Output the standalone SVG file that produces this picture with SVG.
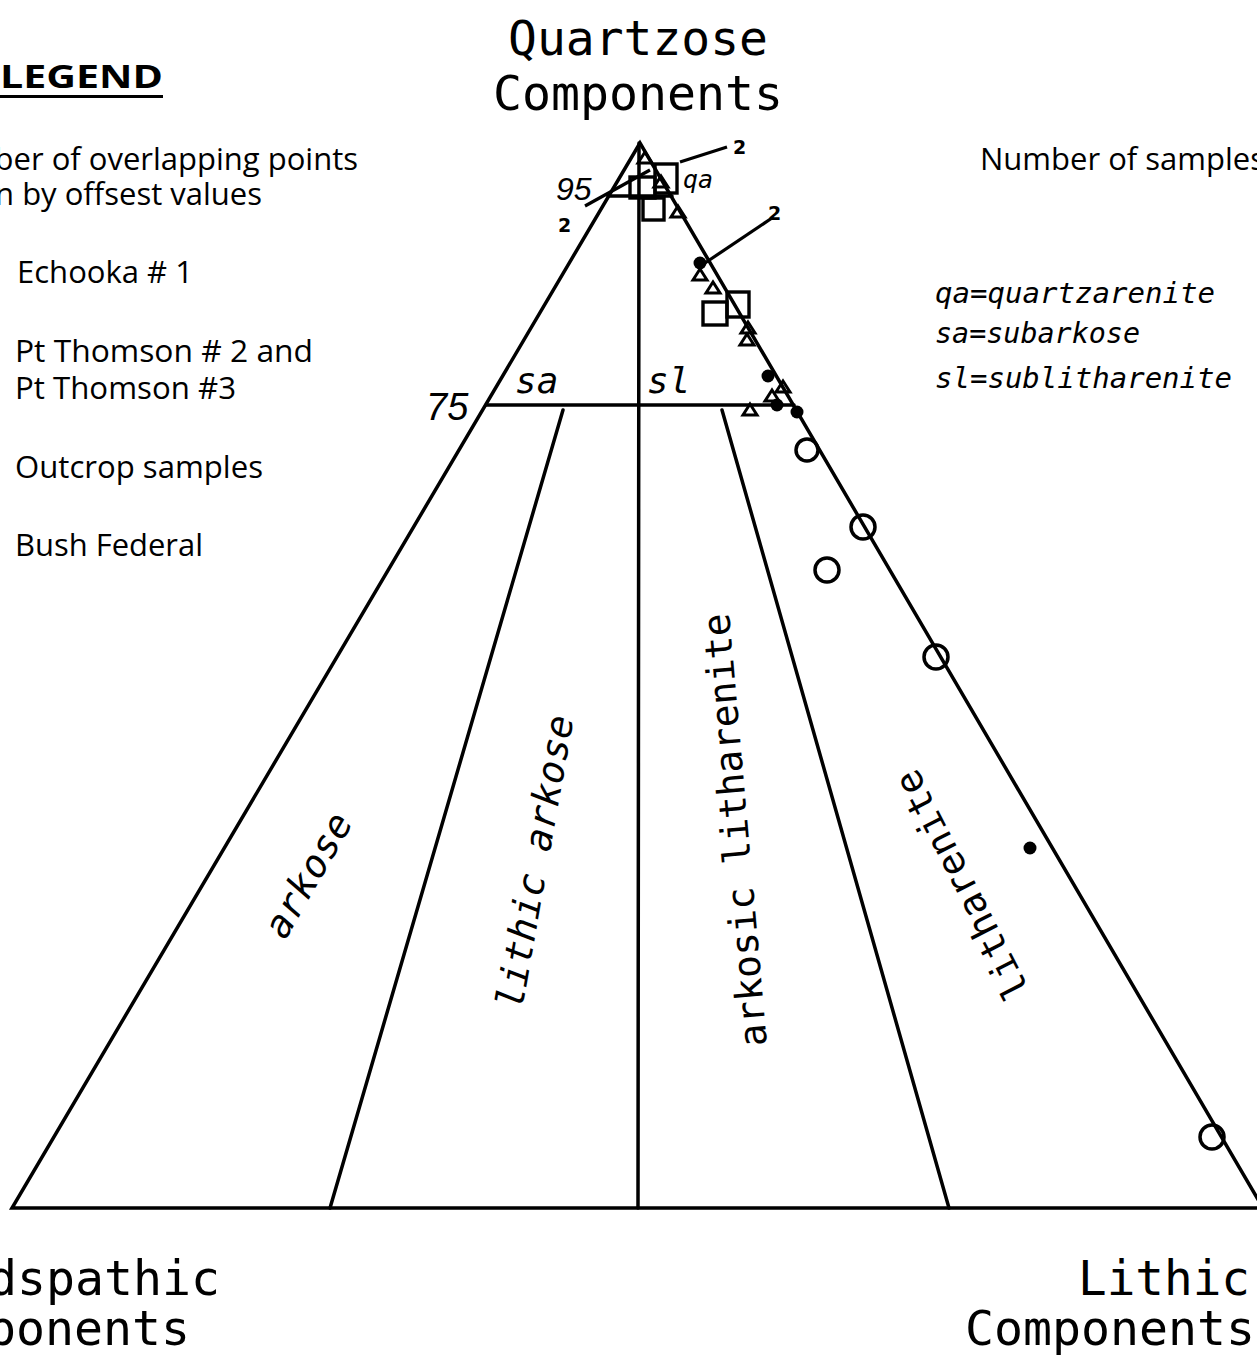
<svg xmlns="http://www.w3.org/2000/svg" width="1257" height="1358" viewBox="0 0 1257 1358">
<style>
.ln{stroke:#000;stroke-width:3.5;fill:none;stroke-linecap:round}
.thin{stroke:#000;stroke-width:3.2;fill:none}
.mono{font-family:"DejaVu Sans Mono","Liberation Mono",monospace;fill:#000}
.it{font-style:italic}
.leg{font-family:"Open Sans","Noto Sans","DejaVu Sans",sans-serif;fill:#000;font-size:31px}
.num{font-family:"DejaVu Sans","Liberation Sans",sans-serif;font-weight:bold;font-size:19px;fill:#000}
.it2{font-family:"Liberation Sans","DejaVu Sans",sans-serif;font-style:italic;fill:#000}
.fc{fill:#000}
.oc{fill:none;stroke:#000;stroke-width:3.5}
.tri{fill:none;stroke:#000;stroke-width:3;stroke-linejoin:miter}
.sq{fill:none;stroke:#000;stroke-width:3.4}
</style>
<defs>
<path id="t" d="M0,-6 L7,5 L-7,5 Z"/>
</defs>
<rect width="1257" height="1358" fill="#fff"/>

<g id="axis-labels">
<text class="mono" x="508" y="55" font-size="48" textLength="260" lengthAdjust="spacingAndGlyphs">Quartzose</text>
<text class="mono" x="493" y="110" font-size="48" textLength="290" lengthAdjust="spacingAndGlyphs">Components</text>
<text class="mono" x="1078" y="1295" font-size="48" textLength="172" lengthAdjust="spacingAndGlyphs">Lithic</text>
<text class="mono" x="965" y="1345" font-size="48" textLength="290" lengthAdjust="spacingAndGlyphs">Components</text>
<text class="mono" x="-99" y="1295" font-size="48" textLength="319" lengthAdjust="spacingAndGlyphs">Feldspathic</text>
<text class="mono" x="-100" y="1345" font-size="48" textLength="290" lengthAdjust="spacingAndGlyphs">Components</text>
</g>

<g id="legend">
<text x="0" y="88" font-family="'Open Sans','DejaVu Sans',sans-serif" font-weight="bold" font-size="32" textLength="163" lengthAdjust="spacingAndGlyphs">LEGEND</text>
<rect x="0" y="95" width="163" height="3" fill="#000"/>
<text class="leg" x="358" y="170" text-anchor="end">Number of overlapping points</text>
<text class="leg" x="262" y="205" text-anchor="end">shown by offsest values</text>
<text class="leg" x="17" y="283" textLength="176" lengthAdjust="spacingAndGlyphs">Echooka # 1</text>
<text class="leg" x="15" y="362" textLength="298" lengthAdjust="spacingAndGlyphs">Pt Thomson # 2 and</text>
<text class="leg" x="15" y="399" textLength="221" lengthAdjust="spacingAndGlyphs">Pt Thomson #3</text>
<text class="leg" x="15" y="478" textLength="248" lengthAdjust="spacingAndGlyphs">Outcrop samples</text>
<text class="leg" x="15" y="556" textLength="188" lengthAdjust="spacingAndGlyphs">Bush Federal</text>
<text class="leg" x="980" y="170">Number of samples</text>
</g>

<g id="key">
<text class="mono it" x="935" y="303" font-size="28" textLength="280" lengthAdjust="spacingAndGlyphs">qa=quartzarenite</text>
<text class="mono it" x="935" y="343" font-size="28" textLength="205" lengthAdjust="spacingAndGlyphs">sa=subarkose</text>
<text class="mono it" x="935" y="388" font-size="28" textLength="297" lengthAdjust="spacingAndGlyphs">sl=sublitharenite</text>
</g>

<g id="connectors">
<path class="ln" d="M640,143 L12,1208 L1263,1208 Z" stroke-linejoin="miter"/>
<line class="ln" x1="639" y1="143" x2="638" y2="1208"/>
<line class="ln" x1="486" y1="405" x2="794" y2="405"/>
<line class="ln" x1="608" y1="196" x2="672" y2="196"/>
<line class="ln" x1="563" y1="410" x2="330" y2="1208"/>
<line class="ln" x1="722" y1="410" x2="949" y2="1208"/>
<line class="thin" x1="680" y1="162" x2="727" y2="147"/>
<line class="thin" x1="705" y1="263" x2="772" y2="218"/>
<line class="thin" x1="585" y1="206" x2="650" y2="170"/>
</g>

<g id="field-labels">
<text class="it2" x="556" y="200" font-size="32">95</text>
<text class="it2" x="426" y="420" font-size="38">75</text>
<text class="mono it" x="683" y="188" font-size="25">qa</text>
<text class="mono it" x="515" y="393" font-size="36">sa</text>
<text class="mono it" x="647" y="393" font-size="36">sl</text>
<text class="num" x="733" y="154">2</text>
<text class="num" x="768" y="220">2</text>
<text class="num" x="558" y="232">2</text>
<text class="mono it" font-size="38" text-anchor="middle" dominant-baseline="central" transform="translate(308,875) rotate(-60)">arkose</text>
<text class="mono it" font-size="38" text-anchor="middle" dominant-baseline="central" transform="translate(535,862) rotate(-80)">lithic arkose</text>
<text class="mono" font-size="38" text-anchor="middle" dominant-baseline="central" transform="translate(735,830) rotate(-95)">arkosic litharenite</text>
<text class="mono" font-size="38" text-anchor="middle" dominant-baseline="central" transform="translate(962,885) rotate(-117)">litharenite</text>
</g>

<g id="data">
<rect class="sq" x="630" y="177" width="25" height="21"/>
<rect class="sq" x="655" y="164" width="22" height="29"/>
<rect class="sq" x="643" y="198" width="21" height="22"/>
<use href="#t" class="tri" x="645" y="158"/>
<use href="#t" class="tri" x="661" y="182"/>
<use href="#t" class="tri" x="678" y="212"/>
<circle class="fc" cx="700" cy="263" r="6.5"/>
<use href="#t" class="tri" x="700" y="275"/>
<use href="#t" class="tri" x="713" y="288"/>
<rect class="sq" x="703" y="302" width="24" height="23"/>
<rect class="sq" x="727" y="292" width="22" height="25"/>
<use href="#t" class="tri" x="748" y="328"/>
<use href="#t" class="tri" x="747" y="340"/>
<circle class="fc" cx="768" cy="376" r="6.5"/>
<use href="#t" class="tri" x="783" y="387"/>
<use href="#t" class="tri" x="772" y="396"/>
<use href="#t" class="tri" x="750" y="410"/>
<circle class="fc" cx="777" cy="405" r="6.5"/>
<circle class="fc" cx="797" cy="412" r="6.5"/>
<circle class="oc" cx="807" cy="450" r="11"/>
<circle class="oc" cx="863" cy="527" r="12"/>
<circle class="oc" cx="827" cy="570" r="12"/>
<circle class="oc" cx="936" cy="657" r="12"/>
<circle class="fc" cx="1030" cy="848" r="6.5"/>
<circle class="oc" cx="1212" cy="1137" r="12"/>
</g>
</svg>
